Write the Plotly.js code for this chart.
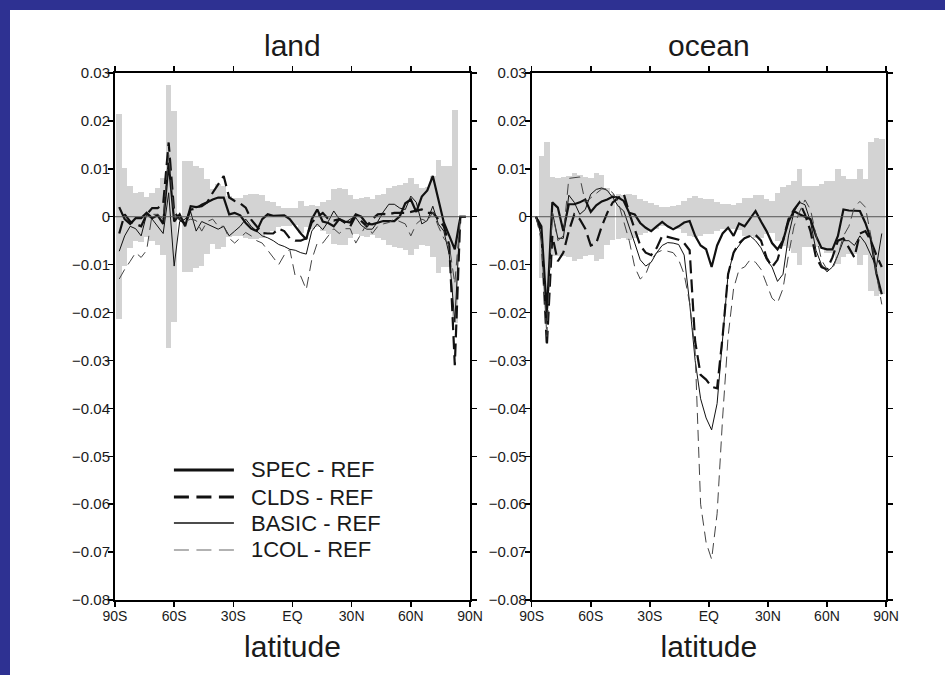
<!DOCTYPE html>
<html><head><meta charset="utf-8">
<script src="https://cdn.plot.ly/plotly-3.0.1.min.js"></script>
<style>
html,body{margin:0;padding:0;background:#2e3192;width:945px;height:675px;overflow:hidden;}
#chart{position:absolute;left:10px;top:10px;width:935px;height:665px;background:#fff;}
</style></head><body><div id="chart"></div>
<script>
// Gaussian (T42) latitudes, degrees
const latitude = [-87.86,-85.10,-82.31,-79.53,-76.74,-73.95,-71.16,-68.37,-65.58,-62.79,-60.00,-57.21,-54.42,-51.63,-48.84,-46.04,-43.25,-40.46,-37.67,-34.88,-32.09,-29.30,-26.51,-23.72,-20.93,-18.14,-15.35,-12.56,-9.77,-6.98,-4.19,-1.40,
1.40,4.19,6.98,9.77,12.56,15.35,18.14,20.93,23.72,26.51,29.30,32.09,34.88,37.67,40.46,43.25,46.04,48.84,51.63,54.42,57.21,60.00,62.79,65.58,68.37,71.16,73.95,76.74,79.53,82.31,85.10,87.86];

const tickVals = [-90,-60,-30,0,30,60,90];
const tickText = ['90S','60S','30S','EQ','30N','60N','90N'];
const seriesNames = ['SPEC - REF','CLDS - REF','BASIC - REF','1COL - REF'];

// ---- land ----
const landSpread = [0.0214,0.0102,0.0065,0.0050,0.0052,0.0042,0.0050,0.0060,0.0080,0.0275,0.0220,0.0,0.0116,0.0116,0.0106,0.0102,0.0078,0.0057,0.0068,0.0064,0.0043,0.0040,0.0040,0.0045,0.0047,0.0047,0.0045,0.0033,0.0030,0.0022,0.0019,0.0019,
0.0018,0.0033,0.0022,0.0025,0.0022,0.0030,0.0035,0.0057,0.0060,0.0058,0.0045,0.0036,0.0040,0.0042,0.0038,0.0045,0.0048,0.0060,0.0064,0.0066,0.0070,0.0080,0.0068,0.0060,0.0062,0.0085,0.0118,0.0105,0.0105,0.0222,0.0,0.0];
const landSPEC = [0.0020,-0.0005,-0.0015,-0.0003,-0.0003,0.0008,-0.0003,0.0003,-0.0015,0.0113,-0.0010,0.0005,-0.0020,0.0022,0.0020,0.0022,0.0030,0.0036,0.0040,0.0040,0.0005,0.0008,0.0003,-0.0013,-0.0025,-0.0030,-0.0005,0.0005,0.0002,0.0003,0.0003,-0.0005,
-0.0020,-0.0035,-0.0047,-0.0005,0.0015,-0.0010,-0.0013,-0.0020,-0.0005,-0.0010,-0.0012,0.0005,0.0000,-0.0015,-0.0016,-0.0013,-0.0009,-0.0009,-0.0009,0.0001,0.0028,0.0036,0.0010,0.0042,0.0055,0.0085,0.0035,-0.0012,-0.0040,-0.0068,0.0,0.0];
const landCLDS = [-0.0035,0.0005,-0.0010,-0.0015,-0.0020,0.0005,0.0018,0.0018,0.0026,0.0155,0.0010,-0.0005,-0.0015,0.0015,0.0017,0.0025,0.0030,0.0050,0.0068,0.0085,0.0040,0.0033,0.0028,0.0019,-0.0006,-0.0020,-0.0034,-0.0035,-0.0035,-0.0025,-0.0030,-0.0045,
-0.0050,-0.0050,-0.0045,-0.0012,0.0000,0.0008,-0.0005,-0.0008,-0.0005,-0.0012,-0.0020,0.0002,-0.0010,-0.0020,-0.0005,0.0005,0.0006,0.0005,0.0008,0.0008,0.0008,0.0010,0.0012,0.0015,0.0008,0.0008,-0.0005,-0.0020,-0.0060,-0.0310,0.0,0.0];
const landBASIC = [-0.0072,-0.0040,-0.0020,-0.0025,-0.0040,0.0005,-0.0005,-0.0020,-0.0035,0.0050,-0.0103,-0.0010,-0.0005,0.0010,-0.0030,-0.0010,-0.0015,-0.0020,-0.0026,-0.0020,-0.0040,-0.0030,-0.0020,-0.0005,-0.0020,-0.0030,-0.0040,-0.0044,-0.0050,-0.0058,-0.0062,-0.0068,
-0.0070,-0.0075,-0.0078,-0.0030,-0.0015,-0.0027,-0.0010,0.0012,-0.0005,-0.0013,-0.0005,-0.0002,-0.0018,-0.0026,-0.0026,-0.0010,0.0010,0.0026,0.0026,0.0018,0.0015,0.0043,0.0030,-0.0015,-0.0008,0.0022,-0.0015,-0.0030,-0.0080,-0.0220,0.0,0.0];
const land1COL = [-0.0130,-0.0110,-0.0093,-0.0075,-0.0085,-0.0070,0.0005,0.0005,-0.0005,0.0130,0.0000,-0.0005,-0.0010,-0.0005,-0.0008,-0.0030,-0.0010,-0.0005,-0.0020,-0.0020,-0.0045,-0.0055,-0.0044,-0.0033,-0.0040,-0.0050,-0.0055,-0.0070,-0.0085,-0.0100,-0.0080,-0.0068,
-0.0124,-0.0124,-0.0152,-0.0090,-0.0055,-0.0055,-0.0040,-0.0025,-0.0035,-0.0025,-0.0025,-0.0055,-0.0035,-0.0015,-0.0035,-0.0020,-0.0015,-0.0012,-0.0005,-0.0010,-0.0015,-0.0040,-0.0015,-0.0005,-0.0010,0.0010,-0.0020,-0.0045,-0.0060,-0.0140,0.0,0.0];

// ---- ocean ----
const oceanSpread = [0.0,0.0127,0.0155,0.0083,0.0081,0.0083,0.0085,0.0092,0.0088,0.0082,0.0080,0.0092,0.0088,0.0060,0.0048,0.0047,0.0045,0.0048,0.0045,0.0038,0.0033,0.0028,0.0025,0.0020,0.0020,0.0022,0.0025,0.0033,0.0040,0.0043,0.0040,0.0036,
0.0036,0.0030,0.0026,0.0026,0.0025,0.0028,0.0040,0.0040,0.0045,0.0045,0.0036,0.0033,0.0050,0.0062,0.0066,0.0075,0.0100,0.0064,0.0064,0.0064,0.0068,0.0075,0.0075,0.0099,0.0085,0.0078,0.0078,0.0100,0.0079,0.0155,0.0165,0.0162];
const oceanSPEC = [0.0,-0.0020,-0.0200,0.0030,0.0019,-0.0030,0.0026,0.0026,0.0030,0.0036,0.0010,0.0024,0.0032,0.0036,0.0042,0.0040,0.0033,0.0008,0.0005,-0.0013,-0.0023,-0.0030,-0.0020,-0.0011,-0.0020,-0.0026,-0.0020,-0.0012,-0.0009,-0.0040,-0.0060,-0.0068,
-0.0105,-0.0060,-0.0035,-0.0023,-0.0040,-0.0014,-0.0020,-0.0005,0.0012,-0.0010,-0.0030,-0.0055,-0.0068,-0.0050,-0.0010,0.0012,0.0005,0.0000,-0.0005,-0.0040,-0.0065,-0.0068,-0.0068,-0.0040,0.0015,0.0013,0.0012,0.0012,-0.0013,-0.0047,-0.0118,-0.0162];
const oceanCLDS = [0.0,-0.0030,-0.0270,-0.0040,-0.0093,-0.0075,-0.0030,0.0005,-0.0005,-0.0025,-0.0060,-0.0055,-0.0020,0.0008,0.0030,0.0040,0.0048,0.0008,-0.0025,-0.0060,-0.0075,-0.0080,-0.0065,-0.0040,-0.0042,-0.0045,-0.0048,-0.0055,-0.0070,-0.0260,-0.0330,-0.0340,
-0.0355,-0.0358,-0.0250,-0.0120,-0.0075,-0.0055,-0.0045,-0.0040,-0.0038,-0.0050,-0.0085,-0.0105,-0.0090,-0.0050,-0.0005,0.0015,0.0030,0.0005,-0.0030,-0.0085,-0.0105,-0.0110,-0.0085,-0.0050,-0.0045,-0.0065,-0.0085,-0.0035,-0.0030,-0.0050,-0.0080,-0.0105];
const oceanBASIC = [0.0,-0.0040,-0.0220,0.0010,-0.0045,-0.0045,0.0045,0.0030,0.0005,0.0015,0.0047,0.0057,0.0060,0.0055,0.0040,0.0022,0.0012,-0.0020,-0.0055,-0.0090,-0.0103,-0.0095,-0.0075,-0.0060,-0.0054,-0.0055,-0.0058,-0.0080,-0.0180,-0.0300,-0.0380,-0.0420,
-0.0445,-0.0390,-0.0260,-0.0120,-0.0075,-0.0060,-0.0045,-0.0040,-0.0050,-0.0065,-0.0090,-0.0105,-0.0135,-0.0120,-0.0040,0.0010,0.0030,0.0025,-0.0010,-0.0070,-0.0100,-0.0115,-0.0105,-0.0080,-0.0050,-0.0050,-0.0060,-0.0040,-0.0055,-0.0080,-0.0105,-0.0035];
const ocean1COL = [0.0,-0.0050,-0.0250,0.0010,-0.0050,-0.0040,0.0080,0.0082,0.0083,0.0030,0.0040,0.0050,0.0058,0.0058,0.0050,0.0030,-0.0010,-0.0050,-0.0105,-0.0130,-0.0120,-0.0090,-0.0075,-0.0070,-0.0072,-0.0075,-0.0090,-0.0120,-0.0180,-0.0280,-0.0600,-0.0680,
-0.0715,-0.0620,-0.0420,-0.0250,-0.0150,-0.0110,-0.0105,-0.0090,-0.0095,-0.0110,-0.0140,-0.0170,-0.0180,-0.0150,-0.0080,-0.0020,0.0010,0.0035,0.0015,-0.0040,-0.0090,-0.0110,-0.0110,-0.0080,-0.0040,-0.0020,0.0020,0.0032,0.0020,-0.0040,-0.0120,-0.0183];

const styles = [
  {color:'#111', width:2.2, dash:'solid'},
  {color:'#111', width:2.2, dash:'13px,6px'},
  {color:'#111', width:1.0, dash:'solid'},
  {color:'#444', width:1.0, dash:'11px,6px'}
];

function panel(spread, series, xa, ya) {
  const out = [{
    type:'bar', x: latitude, y: spread.map(v => 2*v), base: spread.map(v => -v),
    width: 2.79, marker:{color:'#d3d3d3', line:{width:0}}, xaxis:xa, yaxis:ya,
    showlegend:false, hoverinfo:'skip'
  }];
  series.forEach((s, i) => out.push({
    type:'scatter', mode:'lines', x: latitude, y: s, name: seriesNames[i],
    line: styles[i], xaxis:xa, yaxis:ya, showlegend:false, hoverinfo:'skip'
  }));
  return out;
}

const data = [].concat(
  panel(landSpread, [landSPEC, landCLDS, landBASIC, land1COL], 'x', 'y'),
  panel(oceanSpread, [oceanSPEC, oceanCLDS, oceanBASIC, ocean1COL], 'x2', 'y2')
);

const txt = '#1a1a1a';
const sans = 'Liberation Sans, Arial, Helvetica, sans-serif';
function xAxis(dom, anchor) {
  return {
    domain: dom, anchor: anchor, range: [-90, 90], tickmode:'array', tickvals: tickVals, ticktext: tickText,
    ticks:'outside', ticklen:5, tickwidth:1.5, tickcolor:'#000', showline:true, linecolor:'#000', linewidth:2,
    mirror:'ticks', showgrid:false, zeroline:false, ticklabelstandoff:-3,
    tickfont:{family:sans, size:14, color:txt},
    title:{text:'latitude', font:{family:sans, size:30, color:txt}, standoff:13}
  };
}
function yAxis(anchor) {
  return {
    domain:[0,1], anchor: anchor, range:[-0.08, 0.03], dtick:0.01, tick0:0,
    ticks:'outside', ticklen:5, tickwidth:1.5, tickcolor:'#000', showline:true, linecolor:'#000', linewidth:2,
    mirror:'ticks', showgrid:false, zeroline:false, ticklabelstandoff:-5,
    tickfont:{family:sans, size:15, color:txt}
  };
}

const legendRows = [0.2467, 0.1954, 0.1461, 0.0949];
const shapes = [
  {type:'line', xref:'x domain', yref:'y', x0:0, x1:1, y0:0, y1:0, line:{color:'#555', width:1}, layer:'above'},
  {type:'line', xref:'x2 domain', yref:'y2', x0:0, x1:1, y0:0, y1:0, line:{color:'#555', width:1}, layer:'above'}
];
const annotations = [
  {text:'land', xref:'x domain', yref:'y domain', x:0.5, y:1.053, showarrow:false, xanchor:'center', yanchor:'middle',
   font:{family:sans, size:30, color:txt}},
  {text:'ocean', xref:'x2 domain', yref:'y2 domain', x:0.5, y:1.053, showarrow:false, xanchor:'center', yanchor:'middle',
   font:{family:sans, size:30, color:txt}}
];
seriesNames.forEach((n, i) => {
  const st = styles[i];
  shapes.push({type:'line', xref:'x domain', yref:'y domain', x0:0.166, x1:0.335, y0:legendRows[i], y1:legendRows[i],
    line:{color: i===3 ? '#999' : st.color, width: i<2 ? 2.8 : 1.3, dash: (i===1 || i===3) ? '15px,7.5px' : 'solid'}, layer:'above'});
  annotations.push({text:n, xref:'x domain', yref:'y domain', x:0.378, y:legendRows[i], xanchor:'left', yanchor:'middle',
    showarrow:false, font:{family:sans, size:22, color:txt}});
});

const layout = {
  width:935, height:665, margin:{l:105, r:59, t:63, b:75, pad:0},
  paper_bgcolor:'#fff', plot_bgcolor:'#fff', barmode:'overlay', bargap:0, showlegend:false,
  hovermode:false,
  xaxis: xAxis([0, 0.4604], 'y'), yaxis: yAxis('x'),
  xaxis2: xAxis([0.5405, 1], 'y2'), yaxis2: yAxis('x2'),
  shapes: shapes, annotations: annotations
};
Plotly.newPlot('chart', data, layout, {staticPlot:true, displayModeBar:false});
</script></body></html>
